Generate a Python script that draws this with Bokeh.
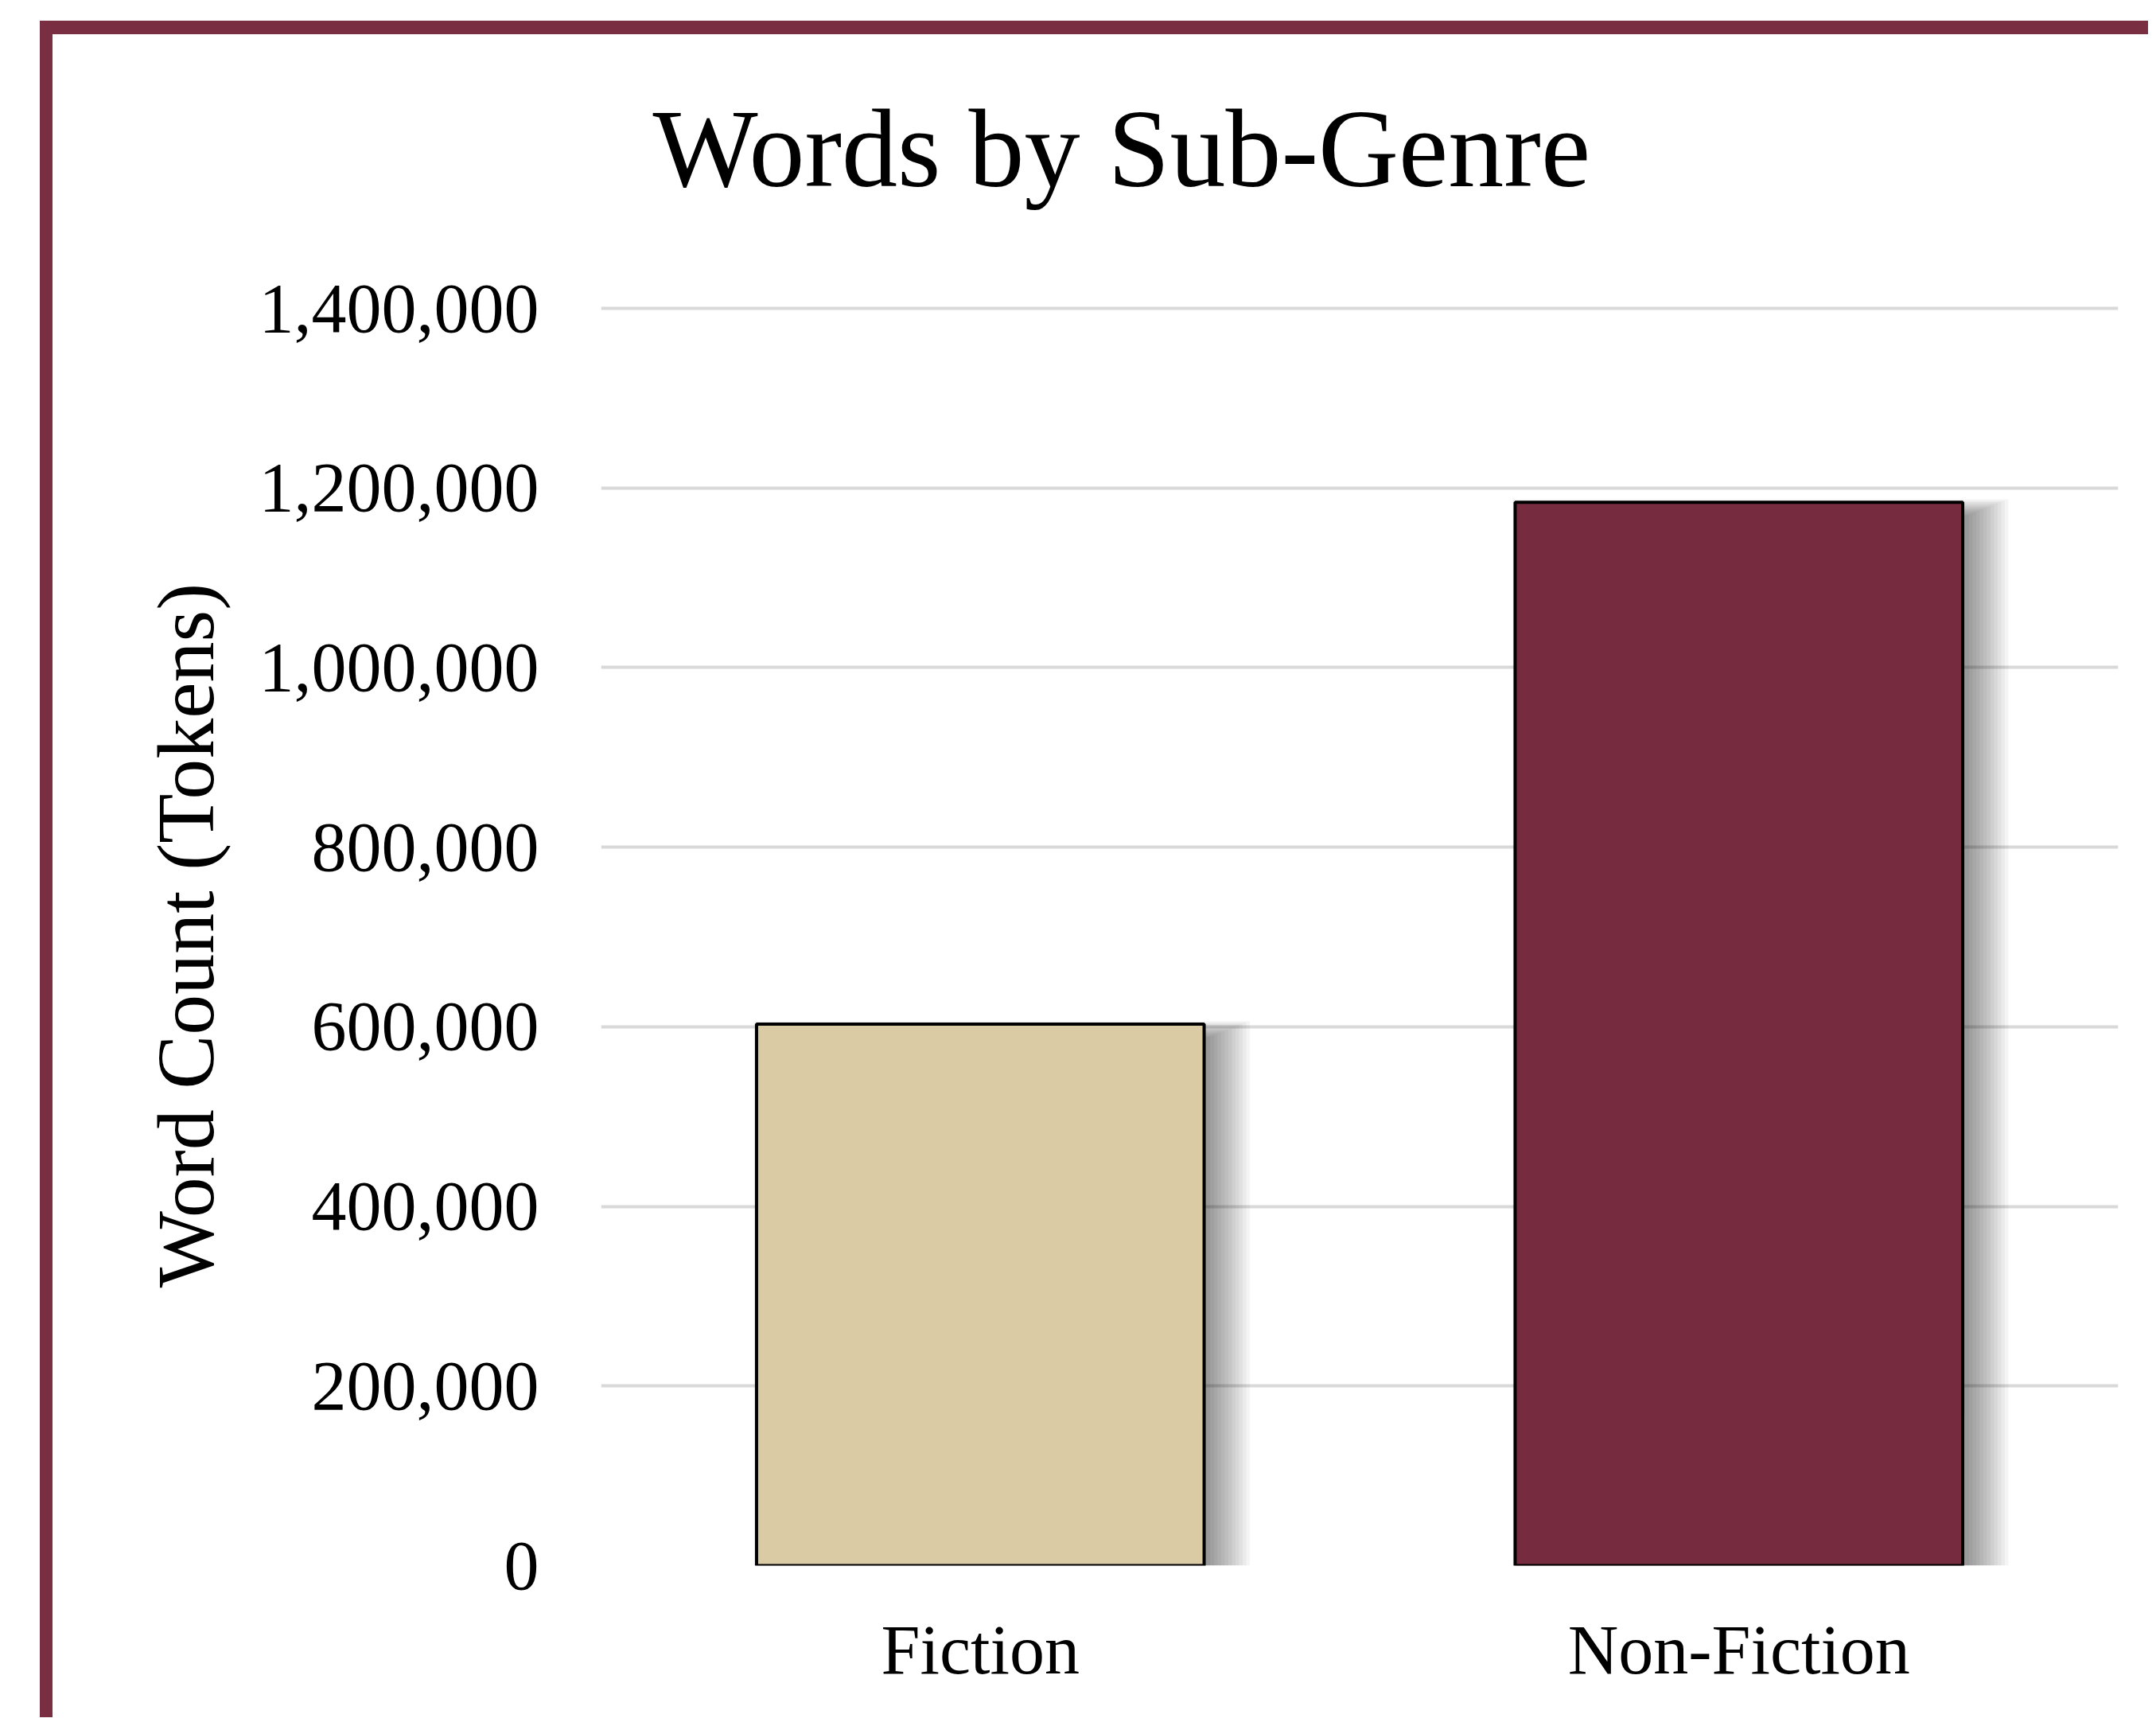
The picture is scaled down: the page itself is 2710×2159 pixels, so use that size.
from bokeh.plotting import figure
from bokeh.models import FixedTicker, NumeralTickFormatter, Title, ColumnDataSource
from bokeh.transform import dodge
from bokeh.embed import file_html
from bokeh.resources import INLINE

# ---- data ----
categories = ["Fiction", "Non-Fiction"]
word_counts = [603000, 1184000]
bar_colors = ["#DBCBA5", "#762C3E"]
y_ticks = [0, 200000, 400000, 600000, 800000, 1000000, 1200000, 1400000]
title_text = "Words by Sub-Genre"
y_label = "Word Count (Tokens)"

FONT = "Liberation Serif"
SHIFT = 60                                # canvas starts this far above the page top
W, H = 2700, 2218
FRAME_L, FRAME_R, FRAME_T, FRAME_B = 755, 38, 443, 191
FRAME_H = H - FRAME_T - FRAME_B
px_y = 1400000 / (FRAME_H - 4)          # data units per pixel
Y_END = 1400000 + 4 * px_y              # small headroom so the top gridline shows

p = figure(x_range=categories, y_range=(0, Y_END), width=W, height=H,
           output_backend="svg", toolbar_location=None,
           min_border_left=FRAME_L, min_border_right=FRAME_R,
           min_border_top=FRAME_T, min_border_bottom=FRAME_B)
# maroon frame lines (top and left) painted behind the transparent canvas border area
p.styles = {
    "margin-top": f"-{SHIFT}px",
    "background-image": "linear-gradient(#7A2E42, #7A2E42), linear-gradient(#7A2E42, #7A2E42)",
    "background-size": "2700px 17px, 16px 2400px",
    "background-position": f"50px {26 + SHIFT}px, 50px {26 + SHIFT}px",
    "background-repeat": "no-repeat",
}

p.title = Title(text=title_text, text_font=FONT, text_font_size="140px",
                text_font_style="normal", text_color="black", align="left",
                offset=65, standoff=240, vertical_align="bottom")

p.outline_line_color = None
p.background_fill_color = "white"
p.border_fill_color = None

p.xgrid.grid_line_color = None
p.ygrid.grid_line_color = "#D9D9D9"
p.ygrid.grid_line_width = 4

p.yaxis.ticker = FixedTicker(ticks=y_ticks)
p.yaxis.formatter = NumeralTickFormatter(format="0,0")
for ax in (p.xaxis, p.yaxis):
    ax.axis_line_color = None
    ax.major_tick_line_color = None
    ax.minor_tick_line_color = None
    ax.major_tick_out = 0
    ax.major_tick_in = 0
    ax.major_label_text_font = FONT
    ax.major_label_text_font_size = "88px"
    ax.major_label_text_color = "black"
p.yaxis.major_label_standoff = 78
p.xaxis.major_label_standoff = 57
p.yaxis.axis_label = y_label
p.yaxis.axis_label_text_font = FONT
p.yaxis.axis_label_text_font_size = "102px"
p.yaxis.axis_label_text_font_style = "normal"
p.yaxis.axis_label_text_color = "black"
p.yaxis.axis_label_standoff = 33

# pixel -> categorical units, for the soft drop shadow styling
px_x = 1.0 / ((W - FRAME_L - FRAME_R) / len(categories))

src = ColumnDataSource(dict(cat=categories, val=word_counts, color=bar_colors))
bar_w = 0.59

N = 12
for k in range(N):
    left_px = 10 - 1.2 * k
    right_px = 8 + 4.5 * k
    off = (left_px + right_px) / 2
    ssrc = ColumnDataSource(dict(cat=categories,
                                 top=[v - 16 * px_y + 1.8 * k * px_y for v in word_counts]))
    p.vbar(x=dodge("cat", off * px_x, range=p.x_range), top="top", bottom=0,
           width=bar_w + (right_px - left_px) * px_x, source=ssrc,
           fill_color="black", fill_alpha=0.038, line_color=None)

p.vbar(x="cat", top="val", bottom=0, width=bar_w, source=src,
       fill_color="color", line_color="black", line_width=4)

open("out.html", "w").write(file_html(p, INLINE))
